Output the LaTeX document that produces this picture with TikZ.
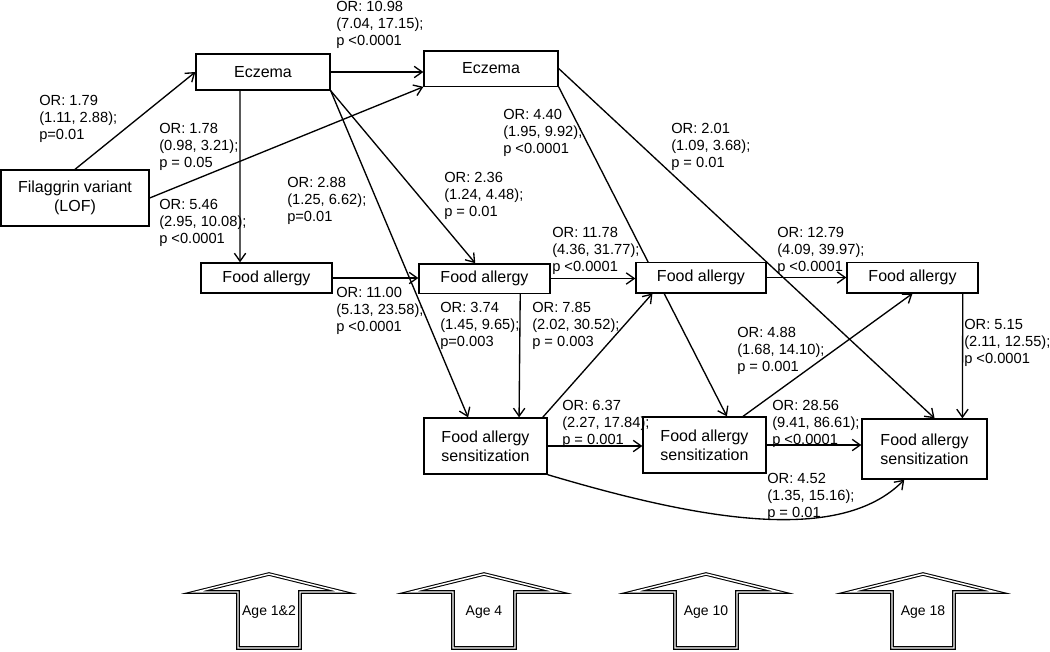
\documentclass[tikz,border=0pt]{standalone}
\usepackage{fontspec}
\setmainfont{Liberation Sans}
\usetikzlibrary{arrows.meta,calc,backgrounds}

\tikzset{
  box/.style={draw, fill=white, line width=1pt, align=center, inner sep=2pt,
    font=\fontsize{12}{14}\selectfont},
  orlabel/.style={anchor=north west, align=left, inner sep=0pt},
  link/.style={line width=1pt, -{Straight Barb[length=6pt,width=8.5pt]}},
  agearrow/.style={draw, line width=0.8pt, double=white, double distance=1.1pt},
}

\begin{document}
\begin{tikzpicture}[x=0.75pt, y=-0.75pt, font=\fontsize{11}{12.8}\selectfont]
    \useasboundingbox (0,0) rectangle (1050,651);
    % boxes
    \node[box, minimum width=111pt, minimum height=42pt] (fil) at (75,198) {Filaggrin variant\\(LOF)};
    \node[box, minimum width=100.5pt, minimum height=27pt] (ecz1) at (263,72) {Eczema};
    \node[box, minimum width=100.5pt, minimum height=26.5pt] (ecz2) at (491,68.5) {Eczema};
    \node[box, minimum width=98.25pt, minimum height=22.5pt] (fa1) at (266.5,278) {Food allergy};
    \node[box, minimum width=98.25pt, minimum height=22pt] (fa2) at (484.5,278.5) {Food allergy};
    \node[box, minimum width=97.5pt, minimum height=23pt] (fa3) at (701,277.5) {Food allergy};
    \node[box, minimum width=98.25pt, minimum height=23pt] (fa4) at (912.5,277.5) {Food allergy};
    \node[box, minimum width=92.25pt, minimum height=42pt] (fas1) at (485.5,446) {Food allergy\\sensitization};
    \node[box, minimum width=92.25pt, minimum height=42pt] (fas2) at (704.5,445) {Food allergy\\sensitization};
    \node[box, minimum width=93.75pt, minimum height=45pt] (fas3) at (924.5,449) {Food allergy\\sensitization};

    % connectors
    \begin{scope}[on background layer]
    \draw[link] (fil.north) -- (ecz1.west);
    \draw[link] (fil.east) -- (ecz2.south west);
    \draw[link] (ecz1.east) -- (ecz1.east -| ecz2.west);
    \draw[link] ($(ecz1.south west)!0.33!(ecz1.south east)$) -- ($(fa1.north west)!0.3!(fa1.north east)$);
    \draw[link] (ecz1.south east) -- ($(fa2.north west)!0.43!(fa2.north east)$);
    \draw[link] (ecz1.south east) -- ($(fas1.north west)!0.36!(fas1.north east)$);
    \draw[link] (fa1.east) -- (fa1.east -| fa2.west);
    \draw[link] ($(fa2.south west)!0.77!(fa2.south east)$) -- ($(fas1.north west)!0.77!(fas1.north east)$);
    \draw[link] ($(fas1.north west)!0.96!(fas1.north east)$) -- ($(fa3.south west)!0.13!(fa3.south east)$);
    \draw[link] (fa2.east) -- (fa2.east -| fa3.west);
    \draw[link] (fa3.east) -- (fa3.east -| fa4.west);
    \draw[link] (ecz2.south east) -- ($(fas2.north west)!0.68!(fas2.north east)$);
    \draw[link] (ecz2.east) -- ($(fas3.north west)!0.58!(fas3.north east)$);
    \draw[link] (fas1.east) -- (fas1.east -| fas2.west);
    \draw[link] (fas2.east) -- (fas2.east -| fas3.west);
    \draw[link] ($(fas2.north west)!0.81!(fas2.north east)$) -- (fa4.south);
    \draw[link] ($(fa4.south west)!0.88!(fa4.south east)$) -- ($(fas3.north west)!0.8!(fas3.north east)$);
    \draw[link] (fas1.south east) .. controls (700,520) and (840,545) .. ($(fas3.south west)!0.34!(fas3.south east)$);
    \end{scope}

    % odds ratios
    \node[orlabel] (or179) at (39,95) {OR: 1.79\\(1.11, 2.88);\\p=0.01};
    \node[orlabel] (or178) at (159,123) {OR: 1.78\\(0.98, 3.21);\\p = 0.05};
    \node[orlabel] (or546) at (159,199) {OR: 5.46\\(2.95, 10.08);\\p <0.0001};
    \node[orlabel] (or288) at (287,177) {OR: 2.88\\(1.25, 6.62);\\p=0.01};
    \node[orlabel] (or1098) at (336,1) {OR: 10.98\\(7.04, 17.15);\\p <0.0001};
    \node[orlabel] (or440) at (503,109) {OR: 4.40\\(1.95, 9.92);\\p <0.0001};
    \node[orlabel] (or236) at (444,172) {OR: 2.36\\(1.24, 4.48);\\p = 0.01};
    \node[orlabel] (or1178) at (552,227) {OR: 11.78\\(4.36, 31.77);\\p <0.0001};
    \node[orlabel] (or1100) at (336,287) {OR: 11.00\\(5.13, 23.58);\\p <0.0001};
    \node[orlabel] (or374) at (440,302) {OR: 3.74\\(1.45, 9.65);\\p=0.003};
    \node[orlabel] (or785) at (532,302) {OR: 7.85\\(2.02, 30.52);\\p = 0.003};
    \node[orlabel] (or637) at (562,400) {OR: 6.37\\(2.27, 17.84);\\p = 0.001};
    \node[orlabel] (or201) at (671,123) {OR: 2.01\\(1.09, 3.68);\\p = 0.01};
    \node[orlabel] (or1279) at (777,227) {OR: 12.79\\(4.09, 39.97);\\p <0.0001};
    \node[orlabel] (or515) at (964,319) {OR: 5.15\\(2.11, 12.55);\\p <0.0001};
    \node[orlabel] (or488) at (737,327) {OR: 4.88\\(1.68, 14.10);\\p = 0.001};
    \node[orlabel] (or2856) at (772,400) {OR: 28.56\\(9.41, 86.61);\\p <0.0001};
    \node[orlabel] (or452) at (767,473) {OR: 4.52\\(1.35, 15.16);\\p = 0.01};

    % ages
    \foreach \cx/\txt [count=\i] in {269/Age 1\&2, 484/Age 4, 706/Age 10, 923/Age 18} {
        \draw[agearrow] (\cx-31,648) -- (\cx-31,592) -- (\cx-73,592) -- (\cx,574)
            -- (\cx+73,592) -- (\cx+31,592) -- (\cx+31,648) -- cycle;
        \node[font=\fontsize{10.5}{12}\selectfont] (age\i) at (\cx,612) {\txt};
    }
\end{tikzpicture}
\end{document}
